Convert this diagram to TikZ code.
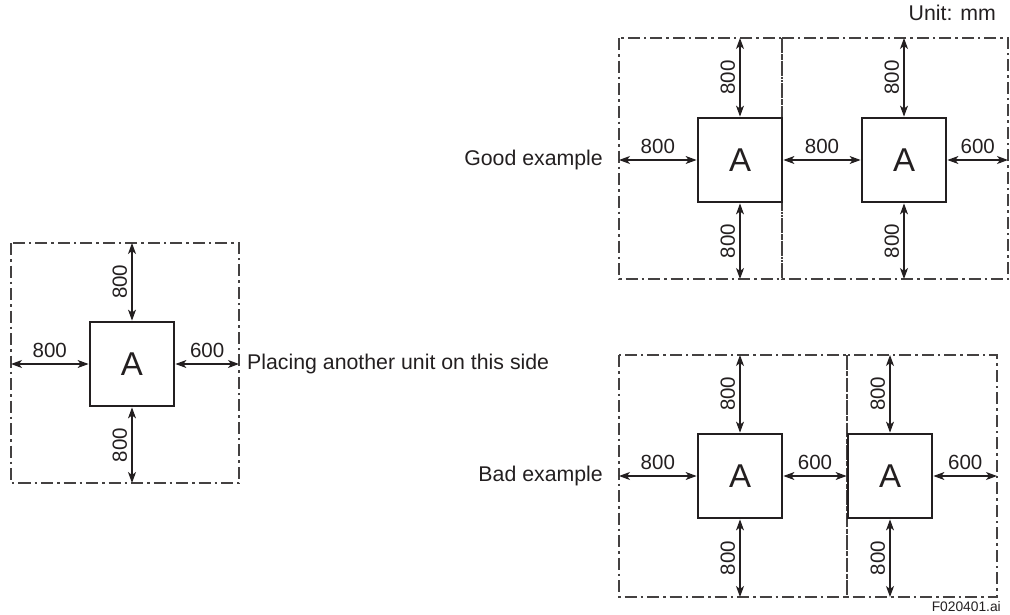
\documentclass[tikz,border=0pt]{standalone}
\usepackage{fontspec}
\setmainfont{Liberation Sans}
\usetikzlibrary{arrows.meta}
\definecolor{ink}{HTML}{231F20}
\begin{document}
\begin{tikzpicture}[x=1pt,y=-1pt,
  unitbox/.style={draw=ink, line width=2.8pt, minimum size=84pt, inner sep=0pt, font=\fontsize{33}{36}\selectfont, text=ink},
  zone/.style={draw=ink!85, line width=1.1pt, dash pattern=on 12pt off 4pt on 2.5pt off 4pt},
  dim/.style={draw=ink, line width=1.1pt, {Stealth[length=11pt,width=8pt,inset=3pt]}-{Stealth[length=11pt,width=8pt,inset=3pt]}},
  hlab/.style={anchor=south, inner sep=0pt, outer sep=6pt, font=\fontsize{20.5}{24}\selectfont, text=ink},
  vlab/.style={rotate=90, anchor=south, inner sep=0pt, outer sep=5pt, font=\fontsize{20.5}{24}\selectfont, text=ink},
  txt/.style={inner sep=0pt, font=\fontsize{21.3}{24}\selectfont, text=ink}]
\useasboundingbox (0,0) rectangle (1010,614);

% ---------- left diagram ----------
\draw[zone] (11,243) rectangle (239,483);
\node[unitbox] (L) at (132,364) {A};
\coordinate (Lt) at (132,243);
\coordinate (Lb) at (132,483);
\coordinate (Ll) at (11,364);
\coordinate (Lr) at (239,364);
\draw[dim] (Lt) -- (L.north) node[midway, vlab] {800};
\draw[dim] (L.south) -- (Lb) node[midway, vlab] {800};
\draw[dim] (Ll) -- (L.west) node[midway, hlab] {800};
\draw[dim] (L.east) -- (Lr) node[midway, hlab] {600};
\node[txt, anchor=west] (place) at (247,364) {Placing another unit on this side};

% ---------- good example ----------
\node[txt, anchor=north east] (unit) at (996,5) {Unit: mm};
\draw[zone] (619,38) rectangle (782,279);
\draw[zone] (782,38) rectangle (1008,279);
\node[unitbox] (G1) at (740,160) {A};
\node[unitbox] (G2) at (904,160) {A};
\coordinate (G1t) at (740,38);
\coordinate (G1b) at (740,279);
\coordinate (G2t) at (904,38);
\coordinate (G2b) at (904,279);
\coordinate (Gl) at (619,160);
\coordinate (Gr) at (1008,160);
\draw[dim] (G1t) -- (G1.north) node[midway, vlab] {800};
\draw[dim] (G1.south) -- (G1b) node[midway, vlab] {800};
\draw[dim] (G2t) -- (G2.north) node[midway, vlab] {800};
\draw[dim] (G2.south) -- (G2b) node[midway, vlab] {800};
\draw[dim] (Gl) -- (G1.west) node[midway, hlab] {800};
\draw[dim] (G1.east) -- (G2.west) node[midway, hlab] {800};
\draw[dim] (G2.east) -- (Gr) node[midway, hlab] {600};
\node[txt, anchor=east] (good) at (603,160) {Good example};

% ---------- bad example ----------
\draw[zone] (619,355) rectangle (847,597);
\draw[zone] (847,355) rectangle (997,597);
\node[unitbox] (B1) at (740,476) {A};
\node[unitbox] (B2) at (890,476) {A};
\coordinate (B1t) at (740,355);
\coordinate (B1b) at (740,597);
\coordinate (B2t) at (890,355);
\coordinate (B2b) at (890,597);
\coordinate (Bl) at (619,476);
\coordinate (Br) at (997,476);
\draw[dim] (B1t) -- (B1.north) node[midway, vlab] {800};
\draw[dim] (B1.south) -- (B1b) node[midway, vlab] {800};
\draw[dim] (B2t) -- (B2.north) node[midway, vlab] {800};
\draw[dim] (B2.south) -- (B2b) node[midway, vlab] {800};
\draw[dim] (Bl) -- (B1.west) node[midway, hlab] {800};
\draw[dim] (B1.east) -- (B2.west) node[midway, hlab] {600};
\draw[dim] (B2.east) -- (Br) node[midway, hlab] {600};
\node[txt, anchor=east] (bad) at (603,476) {Bad example};

\node[inner sep=0pt, anchor=east, font=\fontsize{13.8}{16}\selectfont, text=ink] (fig) at (1001,607) {F020401.ai};
\end{tikzpicture}
\end{document}
